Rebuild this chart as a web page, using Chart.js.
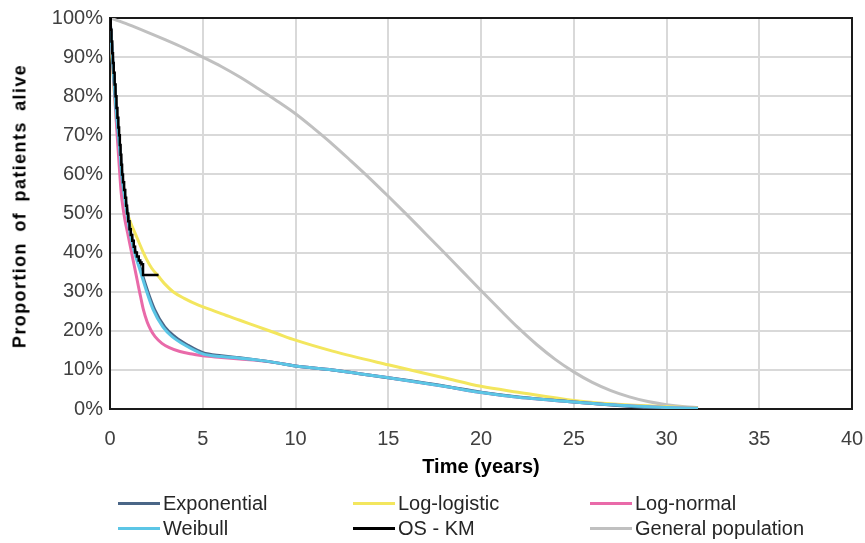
<!DOCTYPE html>
<html>
<head>
<meta charset="utf-8">
<script src="https://cdn.jsdelivr.net/npm/chart.js@4"></script>
<style>
  html, body { margin: 0; padding: 0; background: #ffffff; }
  #wrap { position: relative; width: 865px; height: 543px; font-family: "Liberation Sans", Arial, sans-serif; }
  #c { position: absolute; left: 0; top: 0; }
  .lg { position: absolute; height: 24px; display: flex; align-items: center; font-size: 20px; color: #262626; white-space: nowrap; }
  .lg span.sw { display: inline-block; width: 42px; height: 3px; margin-right: 3px; }
  #ytitle { position: absolute; left: 20px; top: 206px; transform: translate(-50%, -50%) rotate(-90deg);
            font-weight: bold; font-size: 18px; letter-spacing: 1.4px; word-spacing: 4px; color: #000; white-space: nowrap; }
</style>
</head>
<body>
<div id="wrap">
  <canvas id="c" width="865" height="543"></canvas>
  <div id="ytitle"></div>
</div>
<script>
// ---- Data (time in years, survival in %) ----
const seriesNames = ["Exponential", "Log-logistic", "Log-normal", "Weibull", "OS - KM", "General population"];
const seriesColors = ["#4a6687", "#f3e65e", "#e96aa9", "#5cc6e6", "#000000", "#c0c0c0"];
const xTitle = "Time (years)";
const yTitle = "Proportion of patients alive";

const expT = [0, 0.1, 0.21, 0.33, 0.47, 0.56, 0.65, 0.8, 0.95, 1.12, 1.38, 1.7, 2.04, 2.4, 2.95, 3.5, 4.2, 5, 6, 7, 8, 9, 10, 12, 15, 18, 20, 22, 25, 27, 28.5, 29.7];
const expS = [100, 93, 85, 77, 70, 65, 60, 54.5, 50, 45, 40, 35, 30, 25.5, 21, 18.5, 16.3, 14.4, 13.6, 13.1, 12.5, 11.8, 11, 10, 8, 5.9, 4.3, 3.1, 1.8, 1, 0.5, 0];

const llogT = [0, 0.05, 0.1, 0.17, 0.25, 0.33, 0.42, 0.52, 0.62, 0.75, 0.95, 1.15, 1.35, 1.8, 1.98, 2.25, 2.6, 2.95, 3.4, 4.0, 4.8, 5.5, 6, 7, 8, 9, 10, 12, 15, 18, 20, 22, 25, 28, 30, 31.7];
const llogS = [100, 94.5, 90.5, 85.5, 80, 75, 70, 65, 60, 55, 50, 47.2, 45, 40, 38.2, 36, 34, 32, 30, 28.3, 26.5, 25.3, 24.4, 22.7, 21, 19.3, 17.6, 14.8, 11.3, 8, 5.8, 4.3, 2.2, 1, 0.6, 0.3];

const lnormT = [0, 0.1, 0.2, 0.3, 0.4, 0.5, 0.6, 0.7, 0.8, 0.95, 1.1, 1.24, 1.4, 1.53, 1.65, 1.8, 2.0, 2.2, 2.43, 2.8, 3.2, 3.77, 4.5, 5, 6, 7, 8, 9, 10, 12, 15, 18, 20, 22, 25, 28, 30, 31.7];
const lnormS = [100, 92, 84, 76.5, 69, 62, 55.5, 51.5, 48.5, 45, 41.5, 38.2, 34.5, 31.4, 28.7, 25.4, 22.3, 20.2, 18.5, 16.8, 15.7, 14.7, 14, 13.6, 13.2, 12.8, 12.4, 11.8, 11, 10, 8, 5.8, 4.2, 3, 1.8, 0.8, 0.4, 0.2];

const weibT = [0, 0.1, 0.2, 0.32, 0.46, 0.55, 0.63, 0.77, 0.92, 1.08, 1.33, 1.65, 1.98, 2.32, 2.85, 3.35, 4.05, 5, 6, 7, 8, 9, 10, 12, 15, 18, 20, 22, 25, 28, 30, 31.7];
const weibS = [100, 92.5, 85, 77, 70, 65, 60, 54.8, 50, 45, 40, 35, 30, 25.5, 21, 18.5, 16.3, 14.1, 13.4, 13, 12.5, 11.8, 11, 10, 8, 5.8, 4.2, 3, 1.8, 0.8, 0.4, 0.2];

const kmT = [0, 0.04, 0.08, 0.12, 0.16, 0.2, 0.25, 0.3, 0.35, 0.4, 0.45, 0.49, 0.53, 0.57, 0.61, 0.65, 0.7, 0.76, 0.82, 0.87, 0.92, 0.98, 1.05, 1.12, 1.2, 1.28, 1.35, 1.45, 1.55, 1.63, 1.7, 1.78, 2.62];
const kmS = [100, 97, 94, 91, 88.5, 86, 83, 80, 77, 74.5, 72, 70, 67.5, 65, 62.5, 60, 58, 56, 54, 52, 50, 48, 46, 44.5, 43, 41.5, 40, 39, 38, 37.5, 37, 34.3, 34.3];

const genT = [0, 1, 2, 3, 4, 5, 6, 7, 8, 9, 10, 11, 12, 13, 14, 15, 16, 17, 18, 19, 20, 21, 22, 23, 24, 25, 26, 27, 28, 29, 30, 31, 31.7];
const genS = [100, 98.3, 96.4, 94.4, 92.3, 90, 87.6, 84.9, 81.9, 78.8, 75.5, 71.7, 67.7, 63.4, 59, 54.4, 49.7, 44.9, 40.1, 35.2, 30.3, 25.5, 20.8, 16.5, 12.7, 9.5, 6.8, 4.7, 3.1, 1.9, 1.1, 0.6, 0.4];

const xTicks = [0, 5, 10, 15, 20, 25, 30, 35, 40];
const yTicks = [0, 10, 20, 30, 40, 50, 60, 70, 80, 90, 100];

// ---- build ----
function pts(t, s) { return t.map((v, i) => ({ x: v, y: s[i] })); }
const seriesData = [pts(expT, expS), pts(llogT, llogS), pts(lnormT, lnormS), pts(weibT, weibS), pts(kmT, kmS), pts(genT, genS)];
const drawOrder = [2, 4, 3, 1, 0, 5];

const datasets = seriesNames.map((n, i) => ({
  label: n,
  data: seriesData[i],
  borderColor: seriesColors[i],
  backgroundColor: seriesColors[i],
  borderWidth: i === 4 ? 2.5 : 3,
  pointRadius: 0,
  cubicInterpolationMode: i === 4 ? 'default' : 'monotone',
  tension: 0,
  stepped: i === 4 ? true : false,
  fill: false,
  order: drawOrder[i]
}));

const FONT = "'Liberation Sans', Arial, sans-serif";

const frame = {
  id: 'frame',
  beforeDatasetsDraw(chart) {
    const a = chart.chartArea, ctx = chart.ctx;
    ctx.save();
    ctx.strokeStyle = '#1a1a1a';
    ctx.lineWidth = 2;
    ctx.strokeRect(a.left, a.top, a.right - a.left, a.bottom - a.top);
    ctx.restore();
  }
};

new Chart(document.getElementById('c'), {
  type: 'line',
  data: { datasets },
  options: {
    responsive: false,
    animation: false,
    events: [],
    layout: { padding: { top: 18, right: 13, bottom: 54, left: 0 } },
    plugins: { legend: { display: false }, tooltip: { enabled: false } },
    scales: {
      x: {
        type: 'linear', min: 0, max: 40,
        afterBuildTicks: (s) => { s.ticks = xTicks.map(v => ({ value: v })); },
        afterFit: (s) => { s.height = 80; s.paddingLeft = 0; s.paddingRight = 0; },
        ticks: { font: { family: FONT, size: 20 }, color: '#404040', padding: 18, maxRotation: 0 },
        grid: { color: '#d9d9d9', lineWidth: 2, drawTicks: false },
        border: { display: false },
        title: { display: true, text: xTitle, color: '#000000', font: { family: FONT, size: 20, weight: 'bold' }, padding: { top: 0, bottom: 10 } }
      },
      y: {
        min: 0, max: 100,
        afterBuildTicks: (s) => { s.ticks = yTicks.map(v => ({ value: v })); },
        afterFit: (s) => { s.width = 110; s.paddingTop = 0; s.paddingBottom = 0; },
        ticks: { font: { family: FONT, size: 20 }, color: '#404040', padding: 7, callback: (v) => v + '%' },
        grid: { color: '#d9d9d9', lineWidth: 2, drawTicks: false },
        border: { display: false },
        title: { display: false }
      }
    }
  },
  plugins: [frame]
});

document.getElementById('ytitle').textContent = yTitle;

// ---- HTML legend ----
const legendCols = [118, 353, 590];
const legendRows = [503, 528];
const wrap = document.getElementById('wrap');
seriesNames.forEach((n, i) => {
  const d = document.createElement('div');
  d.className = 'lg';
  d.style.left = legendCols[i % 3] + 'px';
  d.style.top = (legendRows[Math.floor(i / 3)] - 12) + 'px';
  const sw = document.createElement('span');
  sw.className = 'sw';
  sw.style.background = seriesColors[i];
  d.appendChild(sw);
  d.appendChild(document.createTextNode(n));
  wrap.appendChild(d);
});
</script>
</body>
</html>
